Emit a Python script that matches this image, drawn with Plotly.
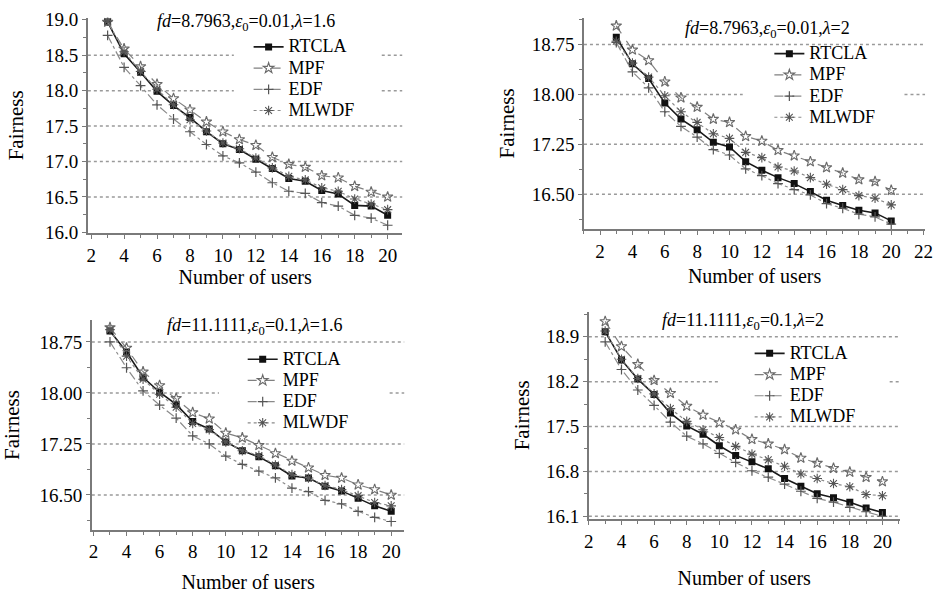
import plotly.graph_objects as go

# Number of users on the horizontal axis
users = list(range(3, 21))

# Panel titles (simulation settings)
titles = [
    "<i>fd</i>=8.7963,<i>ε</i><sub>0</sub>=0.01,<i>λ</i>=1.6",
    "<i>fd</i>=8.7963,<i>ε</i><sub>0</sub>=0.01,<i>λ</i>=2",
    "<i>fd</i>=11.1111,<i>ε</i><sub>0</sub>=0.1,<i>λ</i>=1.6",
    "<i>fd</i>=11.1111,<i>ε</i><sub>0</sub>=0.1,<i>λ</i>=2",
]

# Fairness values, one list per algorithm and panel
rtcla_a = [18.97, 18.52, 18.26, 17.99, 17.79, 17.62, 17.42, 17.25, 17.17, 17.03, 16.90, 16.76, 16.72, 16.59, 16.54, 16.38, 16.37, 16.24]
mpf_a = [18.97, 18.59, 18.34, 18.09, 17.89, 17.73, 17.56, 17.42, 17.31, 17.23, 17.06, 16.96, 16.92, 16.80, 16.77, 16.65, 16.57, 16.50]
edf_a = [18.78, 18.33, 18.07, 17.80, 17.60, 17.42, 17.24, 17.08, 16.98, 16.85, 16.70, 16.58, 16.55, 16.42, 16.37, 16.24, 16.20, 16.10]
mlwdf_a = [18.98, 18.55, 18.27, 18.02, 17.80, 17.59, 17.43, 17.26, 17.18, 17.05, 16.91, 16.79, 16.74, 16.63, 16.58, 16.47, 16.40, 16.32]

rtcla_b = [18.86, 18.46, 18.24, 17.87, 17.63, 17.47, 17.28, 17.21, 16.99, 16.86, 16.75, 16.66, 16.54, 16.41, 16.33, 16.26, 16.22, 16.10]
mpf_b = [19.03, 18.67, 18.51, 18.19, 17.95, 17.81, 17.63, 17.58, 17.37, 17.30, 17.16, 17.08, 16.99, 16.90, 16.82, 16.72, 16.69, 16.56]
edf_b = [18.78, 18.34, 18.10, 17.74, 17.52, 17.36, 17.17, 17.09, 16.88, 16.78, 16.66, 16.57, 16.49, 16.36, 16.29, 16.20, 16.16, 16.05]
mlwdf_b = [18.80, 18.47, 18.26, 17.98, 17.74, 17.58, 17.41, 17.34, 17.13, 17.05, 16.91, 16.85, 16.75, 16.65, 16.57, 16.48, 16.44, 16.34]

rtcla_c = [18.91, 18.60, 18.23, 18.01, 17.83, 17.58, 17.47, 17.28, 17.15, 17.06, 16.93, 16.78, 16.75, 16.63, 16.56, 16.45, 16.34, 16.26]
mpf_c = [18.96, 18.66, 18.31, 18.11, 17.92, 17.71, 17.62, 17.41, 17.34, 17.23, 17.11, 17.00, 16.90, 16.79, 16.75, 16.65, 16.58, 16.50]
edf_c = [18.75, 18.37, 18.03, 17.82, 17.63, 17.37, 17.25, 17.07, 16.95, 16.85, 16.75, 16.60, 16.55, 16.42, 16.37, 16.26, 16.17, 16.11]
mlwdf_c = [18.93, 18.54, 18.20, 17.98, 17.79, 17.55, 17.46, 17.28, 17.15, 17.08, 16.94, 16.80, 16.75, 16.64, 16.58, 16.49, 16.39, 16.34]

rtcla_d = [18.98, 18.54, 18.24, 18.00, 17.71, 17.51, 17.38, 17.20, 17.05, 16.95, 16.84, 16.69, 16.57, 16.45, 16.39, 16.32, 16.23, 16.16]
mpf_d = [19.14, 18.75, 18.47, 18.22, 18.02, 17.82, 17.68, 17.56, 17.45, 17.30, 17.23, 17.14, 17.01, 16.93, 16.85, 16.79, 16.71, 16.64]
edf_d = [18.82, 18.39, 18.07, 17.83, 17.57, 17.35, 17.23, 17.08, 16.94, 16.81, 16.71, 16.60, 16.49, 16.38, 16.32, 16.24, 16.17, 16.10]
mlwdf_d = [18.99, 18.55, 18.25, 18.01, 17.78, 17.58, 17.45, 17.33, 17.19, 17.07, 16.98, 16.88, 16.76, 16.69, 16.61, 16.56, 16.44, 16.42]

panels = [
    (rtcla_a, mpf_a, edf_a, mlwdf_a),
    (rtcla_b, mpf_b, edf_b, mlwdf_b),
    (rtcla_c, mpf_c, edf_c, mlwdf_c),
    (rtcla_d, mpf_d, edf_d, mlwdf_d),
]

# Axis ticks per panel
y_ticks = [
    [16.0, 16.5, 17.0, 17.5, 18.0, 18.5, 19.0],
    [16.50, 17.25, 18.00, 18.75],
    [16.50, 17.25, 18.00, 18.75],
    [16.1, 16.8, 17.5, 18.2, 18.9],
]
y_tick_text = [
    ["16.0", "16.5", "17.0", "17.5", "18.0", "18.5", "19.0"],
    ["16.50", "17.25", "18.00", "18.75"],
    ["16.50", "17.25", "18.00", "18.75"],
    ["16.1", "16.8", "17.5", "18.2", "18.9"],
]
y_minor_step = [0.25, 0.375, 0.375, 0.35]
y_grid = [
    [16.5, 17.0, 17.5, 18.0, 18.5],
    [16.50, 17.25, 18.00, 18.75],
    [16.50, 17.25, 18.00, 18.75],
    [16.1, 16.8, 17.5, 18.2, 18.9],
]
x_ticks = [
    list(range(2, 21, 2)),
    list(range(2, 23, 2)),
    list(range(2, 21, 2)),
    list(range(2, 21, 2)),
]

W, H = 947, 598
# Plot boxes in pixels: left, right, top, bottom
boxes = [(84, 403, 10, 232), (587, 933, 10, 228), (88, 405, 322, 538), (592, 907, 313, 527)]
x_ranges = [[1.8, 20.9], [1.0, 22.1], [1.9, 20.8], [2.0, 21.05]]
y_ranges = [[15.99, 19.03], [15.976, 19.153], [15.988, 19.067], [16.055, 19.294]]
legend_pos = [(247, 24), (775, 31), (241, 346), (755, 340)]
title_pos = [(244, 15), (773, 22), (253, 328), (748, 323)]
y_standoff = [16, 11, 23, 11]
x_standoff = [0, 8, 14, 20]
# Gridlines are interrupted behind each legend block (pixel span)
grid_gap = [
    {18.5: (232, 382), 18.0: (232, 382)},
    {18.00: (748, 912)},
    {18.00: (217, 390)},
    {18.2: (725, 897)},
]

FONT = "Liberation Serif, Times New Roman, serif"
names = ["RTCLA", "MPF", "EDF", "MLWDF"]
styles = [
    dict(line=dict(color="#1a1a1a", width=1.6, dash="solid"),
         marker=dict(symbol="square", size=7, color="#111111")),
    dict(line=dict(color="#808080", width=1.2, dash="dash"),
         marker=dict(symbol="star-open", size=8, color="#6a6a6a", line=dict(width=1.1, color="#6a6a6a"))),
    dict(line=dict(color="#8a8a8a", width=1.2, dash="dashdot"),
         marker=dict(symbol="cross-thin-open", size=7, color="#555555", line=dict(width=1.2, color="#555555"))),
    dict(line=dict(color="#8a8a8a", width=1.2, dash="dot"),
         marker=dict(symbol="asterisk-open", size=8, color="#555555", line=dict(width=1.1, color="#555555"))),
]

fig = go.Figure()
layout = dict(
    width=W, height=H, margin=dict(l=0, r=0, t=0, b=0),
    paper_bgcolor="white", plot_bgcolor="white",
    font=dict(family=FONT, size=19, color="black"),
    annotations=[], shapes=[],
)


def px_to_x(px, i):
    l, r, _, _ = boxes[i]
    x0, x1 = x_ranges[i]
    return x0 + (px - l) / (r - l) * (x1 - x0)


for i, series in enumerate(panels):
    k = "" if i == 0 else str(i + 1)
    leg = "legend" if i == 0 else f"legend{i + 1}"
    for name, vals, st in zip(names, series, styles):
        fig.add_trace(go.Scatter(
            x=users, y=vals, mode="lines+markers",
            # legend rows stay compact while the label text is drawn larger
            name=f'<span style="font-size:18px">{name}</span>',
            xaxis="x" + k, yaxis="y" + k, legend=leg,
            line=st["line"], marker=st["marker"],
        ))
    l, r, t, b = boxes[i]
    axis_common = dict(
        showline=True, linecolor="#7a7a7a", linewidth=1.5,
        ticks="outside", ticklen=4, tickcolor="#7a7a7a", tickwidth=1,
        showgrid=False, zeroline=False, mirror=False,
        tickfont=dict(family=FONT, size=19, color="black"),
    )
    layout["xaxis" + k] = dict(
        axis_common, domain=[l / W, r / W], range=x_ranges[i], anchor="y" + k,
        tickmode="array", tickvals=x_ticks[i],
        minor=dict(dtick=1, tick0=0, ticks="outside", ticklen=3, tickcolor="#7a7a7a"),
        title=dict(text="Number of users", font=dict(family=FONT, size=20), standoff=x_standoff[i]),
    )
    layout["yaxis" + k] = dict(
        axis_common, domain=[1 - b / H, 1 - t / H], range=y_ranges[i], anchor="x" + k,
        tickmode="array", tickvals=y_ticks[i], ticktext=y_tick_text[i],
        minor=dict(dtick=y_minor_step[i], tick0=y_ticks[i][0], ticks="outside", ticklen=3, tickcolor="#7a7a7a"),
        title=dict(text="Fairness", font=dict(family=FONT, size=21), standoff=y_standoff[i]),
    )
    xr0, xr1 = x_ranges[i]
    for g in y_grid[i]:
        if g in grid_gap[i]:
            a, c = grid_gap[i][g]
            segs = [(xr0, px_to_x(a, i)), (px_to_x(c, i), xr1)]
        else:
            segs = [(xr0, xr1)]
        for s0, s1 in segs:
            layout["shapes"].append(dict(
                type="line", xref="x" + k, yref="y" + k, x0=s0, x1=s1, y0=g, y1=g,
                line=dict(color="#9a9a9a", width=1.5, dash="dot"), layer="below",
            ))
    lx, ly = legend_pos[i]
    layout[leg] = dict(
        x=lx / W, y=1 - ly / H, xanchor="left", yanchor="top",
        bgcolor="rgba(0,0,0,0)", borderwidth=0, font=dict(family=FONT, size=14, color="black"),
        tracegroupgap=0, itemwidth=30,
    )
    tx, ty = title_pos[i]
    layout["annotations"].append(dict(
        text=titles[i], x=tx / W, y=1 - ty / H, xref="paper", yref="paper",
        xanchor="center", yanchor="middle", showarrow=False,
        font=dict(family=FONT, size=18, color="black"),
    ))

fig.update_layout(**layout)
fig.write_html("out.html")
